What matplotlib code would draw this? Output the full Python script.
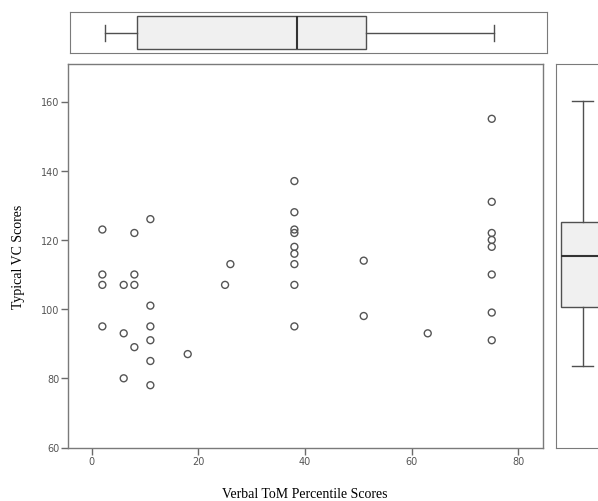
import matplotlib
matplotlib.use("Agg")
import matplotlib.pyplot as plt

# scatter data: Verbal ToM percentile vs Typical VC score
tom_x = [2, 2, 2, 2,
         6, 6, 6,
         8, 8, 8, 8,
         11, 11, 11, 11, 11, 11,
         18, 25, 26,
         38, 38, 38, 38, 38, 38, 38, 38, 38,
         51, 51, 63,
         75, 75, 75, 75, 75, 75, 75, 75]
vc_y = [123, 110, 107, 95,
        107, 93, 80,
        122, 110, 107, 89,
        126, 101, 95, 91, 85, 78,
        87, 107, 113,
        137, 128, 123, 122, 118, 116, 113, 107, 95,
        114, 98, 93,
        155, 131, 122, 120, 118, 110, 99, 91]

# marginal box plot stats
tom_box = dict(whislo=2.5, q1=8.5, med=38.5, q3=51.5, whishi=75.5)
vc_box = dict(whislo=83.5, q1=100.5, med=115.3, q3=125.3, whishi=160.2)

xticks = [0, 20, 40, 60, 80]
yticks = [60, 80, 100, 120, 140, 160]

W, H = 598, 502
fig = plt.figure(figsize=(W / 100, H / 100), dpi=100)
fig.patch.set_facecolor("white")


def pos(x0, x1, y0, y1):
    # pixel box -> figure fraction
    return [x0 / W, 1 - y1 / H, (x1 - x0) / W, (y1 - y0) / H]


spine_c = "#7a7a7a"
line_c = "#505050"
tick_c = "#6a6a6a"

# pixel scale: x=0 at 91.7px, 5.334 px/unit ; y=60 at 448.5px, 3.46 px/unit
def xlim_for(p0, p1):
    return ((p0 - 91.7) / 5.334, (p1 - 91.7) / 5.334)


ax = fig.add_axes(pos(67.5, 543, 65, 448.5))
ax.scatter(tom_x, vc_y, s=25, facecolors="none", edgecolors="#555555", linewidths=1.0, zorder=3)
ax.set_xlim(*xlim_for(67.5, 543))
ax.set_ylim(60, 60 + (448.5 - 65) / 3.46)
ax.set_xticks(xticks)
ax.set_yticks(yticks)
ax.tick_params(direction="out", length=5, width=1, color=tick_c, labelcolor="#555555",
               labelsize=7, pad=1)
for s in ax.spines.values():
    s.set_color(spine_c)
    s.set_linewidth(1.0)
ax.set_xlabel("Verbal ToM Percentile Scores", family="Liberation Serif", fontsize=10, labelpad=15)
ax.set_ylabel("Typical VC Scores", family="Liberation Serif", fontsize=10, labelpad=11)

box_kw = dict(patch_artist=True, showfliers=False,
              boxprops=dict(facecolor="#f0f0f0", edgecolor=line_c, linewidth=1.0),
              medianprops=dict(color="#333333", linewidth=1.5),
              whiskerprops=dict(color=line_c, linewidth=1.0),
              capprops=dict(color=line_c, linewidth=1.0))

# top marginal box plot
axt = fig.add_axes(pos(70, 547, 13.3, 54.3))
axt.bxp([tom_box], positions=[0.5], widths=0.81, capwidths=0.39, vert=False, **box_kw)
axt.set_xlim(*xlim_for(70, 547))
axt.set_ylim(0, 1)
axt.set_xticks([])
axt.set_yticks([])
for s in axt.spines.values():
    s.set_color(spine_c)

# right marginal box plot (cut off by figure edge)
axr = fig.add_axes(pos(556, 609, 65, 448.5))
axr.bxp([vc_box], positions=[0.5], widths=0.8, capwidths=0.41, **box_kw)
axr.set_xlim(0, 1)
axr.set_ylim(60, 60 + (448.5 - 65) / 3.46)
axr.set_xticks([])
axr.set_yticks([])
for s in axr.spines.values():
    s.set_color(spine_c)

fig.savefig("out.png", dpi=100, facecolor="white")
